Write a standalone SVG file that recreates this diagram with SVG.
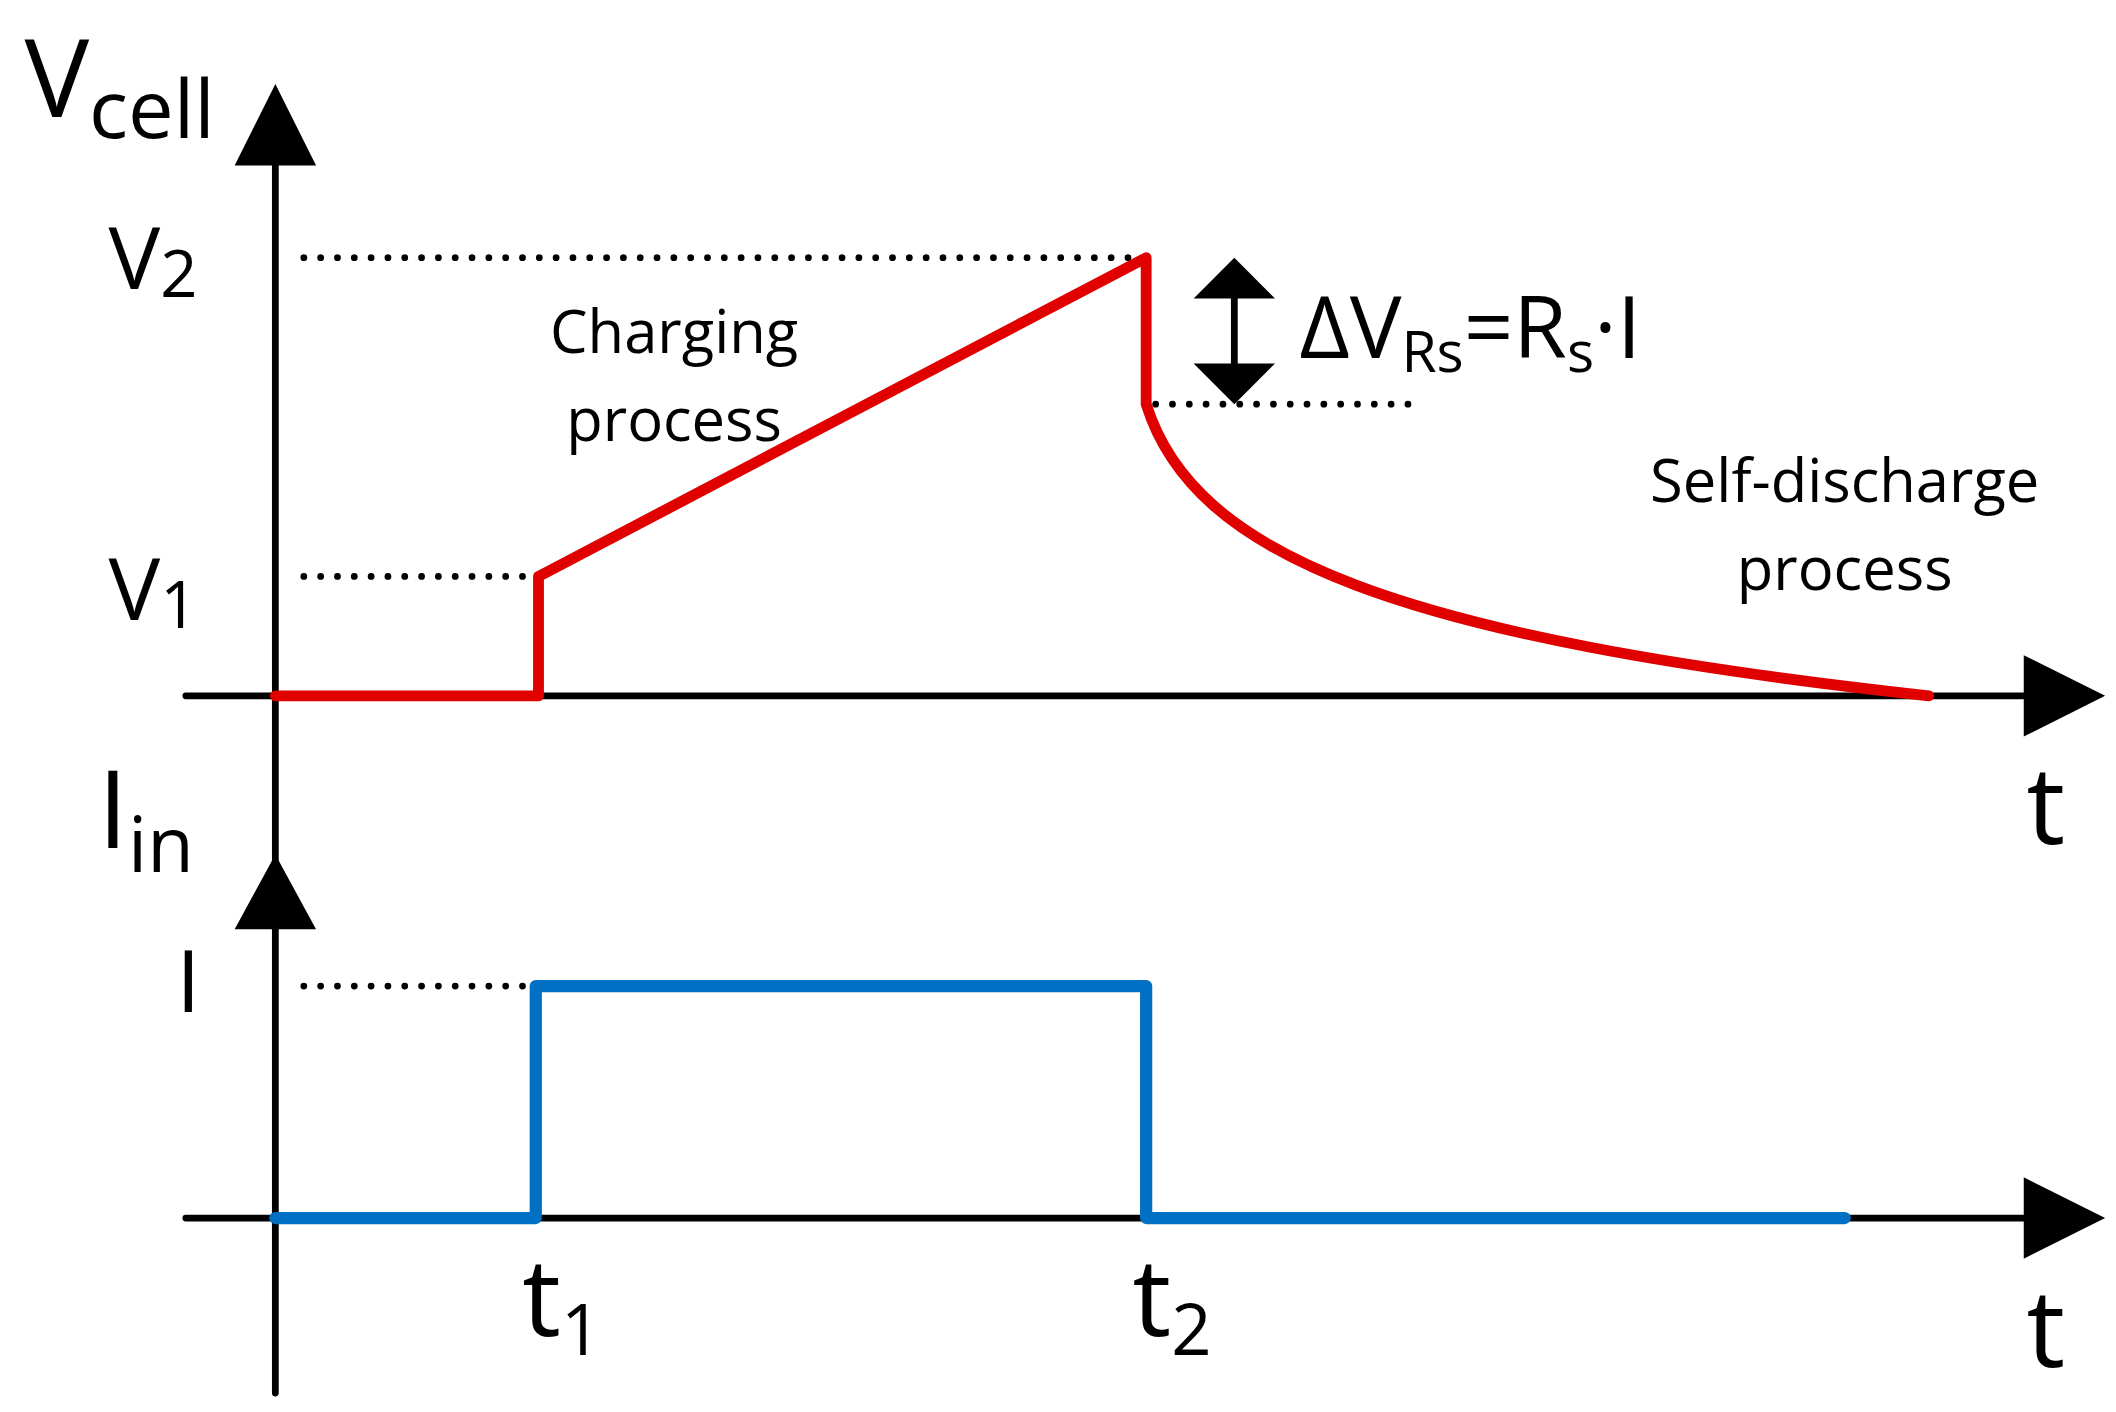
<svg xmlns="http://www.w3.org/2000/svg" width="2116" height="1412" viewBox="0 0 2116 1412">
<style>
.ax{stroke:#000;stroke-width:5;fill:none;stroke-linecap:round}
.dot{stroke:#000;stroke-width:5;fill:none;stroke-linecap:round;stroke-dasharray:0 12.4}
.red{stroke:#e00000;stroke-width:8;fill:none;stroke-linejoin:round;stroke-linecap:round}
.blue{stroke:#0070c4;stroke-width:9;fill:none;stroke-linejoin:round;stroke-linecap:round}
text{font-family:"Open Sans","Liberation Sans",sans-serif;fill:#000}
.big{font-size:80px}
.mid{font-size:64px}
.sub{font-size:48px}
.lab{font-size:44px;text-anchor:middle}
</style>
<rect width="2116" height="1412" fill="#fff"/>
<g transform="scale(1.3564)">
<g id="axes">
<line class="ax" x1="203" y1="110" x2="203" y2="1027"/>
<polygon points="203,62 173,122 233,122"/>
<polygon points="203,630 173,685 233,685"/>
<line class="ax" x1="137" y1="513" x2="1500" y2="513"/>
<polygon points="1552,513 1492,483 1492,543"/>
<line class="ax" x1="137" y1="898" x2="1500" y2="898"/>
<polygon points="1552,898 1492,868 1492,928"/>
</g>
<g id="guides">
<line class="dot" x1="224" y1="190" x2="845" y2="190"/>
<line class="dot" x1="224" y1="425" x2="397" y2="425"/>
<line class="dot" x1="224" y1="727" x2="397" y2="727"/>
<line class="dot" x1="852" y1="298" x2="1040" y2="298"/>
</g>
<g id="delta-arrow">
<line x1="910" y1="215" x2="910" y2="272" stroke="#000" stroke-width="5"/>
<polygon points="910,190 880,220 940,220"/>
<polygon points="910,298 880,268 940,268"/>
</g>
<g id="voltage">
<path class="red" d="M203,513 L397,513 L397,425 L845,190 L845,298 C880,410 1030,470 1422,513"/>
</g>
<g id="current">
<path class="blue" d="M203,898 L395,898 L395,727 L845,727 L845,898 L1360,898"/>
</g>
<g id="labels">
<text class="big" x="18" y="86">V<tspan font-size="60" dy="16">cell</tspan></text>
<text class="mid" x="80" y="213">V<tspan class="sub" dy="6">2</tspan></text>
<text class="mid" x="80" y="457">V<tspan class="sub" dy="6">1</tspan></text>
<text class="mid" x="130" y="746">I</text>
<text class="big" x="72" y="625">I<tspan font-size="56" dy="18">in</tspan></text>
<text class="big" x="1494" y="622">t</text>
<text class="big" x="1494" y="1008">t</text>
<text class="big" x="385" y="985">t<tspan font-size="52" dy="14">1</tspan></text>
<text class="big" x="835" y="985">t<tspan font-size="52" dy="14">2</tspan></text>
<text class="lab" x="497" y="260">Charging</text>
<text class="lab" x="497" y="325">process</text>
<text class="lab" x="1360" y="370">Self-discharge</text>
<text class="lab" x="1360" y="435">process</text>
<text class="mid" x="958" y="264">ΔV<tspan font-size="42" dy="10">Rs</tspan><tspan dy="-10">=R</tspan><tspan font-size="42" dy="10">s</tspan><tspan dy="-10">·I</tspan></text>
</g>
</g>
</svg>
